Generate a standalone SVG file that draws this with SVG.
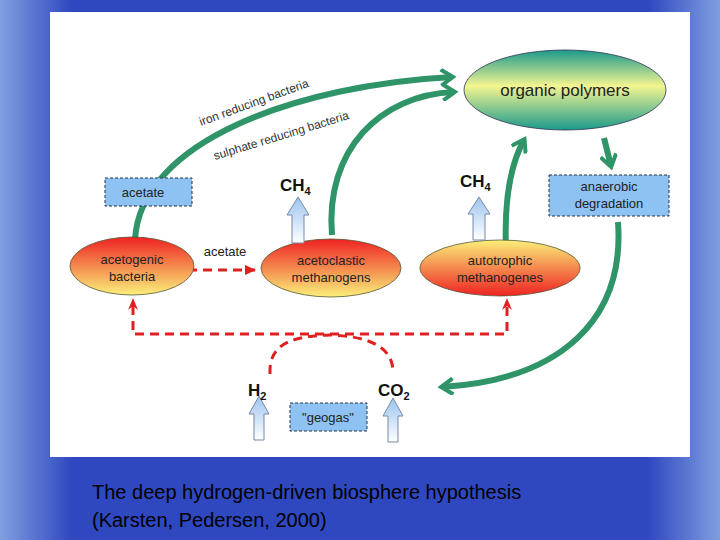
<svg xmlns="http://www.w3.org/2000/svg" width="720" height="540" viewBox="0 0 720 540">
<defs>
<linearGradient id="bg" x1="0" y1="0" x2="1" y2="0"><stop offset="0" stop-color="#7f9fe0"/><stop offset="0.1" stop-color="#2f48c0"/><stop offset="0.9" stop-color="#2f48c0"/><stop offset="1" stop-color="#7f9fe0"/></linearGradient>
<linearGradient id="gOrg" x1="0" y1="0" x2="0" y2="1"><stop offset="0" stop-color="#1a9a8c"/><stop offset="0.45" stop-color="#f4f590"/><stop offset="1" stop-color="#1a9a8c"/></linearGradient>
<linearGradient id="gRY" x1="0" y1="0" x2="0" y2="1"><stop offset="0" stop-color="#ee2222"/><stop offset="1" stop-color="#fbf07a"/></linearGradient>
<linearGradient id="gYR" x1="0" y1="0" x2="0" y2="1"><stop offset="0" stop-color="#fbf07a"/><stop offset="1" stop-color="#ee2222"/></linearGradient>
<linearGradient id="gBA" x1="0" y1="0" x2="0" y2="1"><stop offset="0" stop-color="#9cc4ee"/><stop offset="1" stop-color="#ffffff"/></linearGradient>
<marker id="ga" markerWidth="18" markerHeight="18" refX="13" refY="9" orient="auto" markerUnits="userSpaceOnUse"><path d="M2,1 L14,9 L2,17" fill="none" stroke="#2f9467" stroke-width="4"/></marker>
<marker id="ra" markerWidth="12" markerHeight="12" refX="10" refY="6" orient="auto" markerUnits="userSpaceOnUse"><path d="M0,1 L11,6 L0,11 Z" fill="#e02020"/></marker>
</defs>
<style>
.t{font-family:"Liberation Sans",Arial,sans-serif;fill:#222;text-anchor:middle}
.box{fill:#8ec2f2;stroke:#234;stroke-width:1;stroke-dasharray:3,2}
.g{fill:none;stroke:#2f9467;stroke-width:6;marker-end:url(#ga)}
.r{fill:none;stroke:#e02020;stroke-width:3;stroke-dasharray:9,6}
.ba{fill:url(#gBA);stroke:#7788aa;stroke-width:1}
.ch{font-family:"Liberation Sans",Arial,sans-serif;font-weight:bold;font-size:17px;fill:#111}
</style>
<rect width="720" height="540" fill="url(#bg)"/>
<rect x="50" y="12" width="640" height="445" fill="#fff"/>
<g id="connectors">
<path class="g" d="M135,240 C140,140 300,85 452,77"/>
<path class="g" d="M332,235 C325,150 380,95 454,92"/>
<path class="g" d="M506,250 C504,200 510,165 524,140"/>
<path class="g" d="M604,138 L611,166"/>
<path class="g" d="M618,222 C625,320 560,380 442,387"/>
<path class="r" d="M158,270 H255" marker-end="url(#ra)"/>
<path class="r" d="M133,306 V334 H507 V306" />
<path d="M133,306 l-5,4 5,-12 5,12z M507,306 l-5,4 5,-12 5,12z" fill="#e02020"/>
<path class="r" d="M270,374 C268,340 300,336 330,335 C365,336 393,345 393,372"/>
</g>
<g id="organic-polymers"><ellipse cx="565" cy="90" rx="101" ry="40" fill="url(#gOrg)" stroke="#335" stroke-width="0.8"/><text class="t" x="565" y="96" font-size="17">organic polymers</text></g>
<g id="acetogenic-bacteria"><ellipse cx="132" cy="266" rx="62" ry="29" fill="url(#gRY)" stroke="#553" stroke-width="0.8"/><text class="t" x="132" y="264" font-size="13">acetogenic</text><text class="t" x="132" y="281" font-size="13">bacteria</text></g>
<g id="acetoclastic-methanogens"><ellipse cx="331" cy="268" rx="70" ry="29" fill="url(#gRY)" stroke="#553" stroke-width="0.8"/><text class="t" x="331" y="265" font-size="13">acetoclastic</text><text class="t" x="331" y="282" font-size="13">methanogens</text></g>
<g id="autotrophic-methanogenes"><ellipse cx="500" cy="268" rx="80" ry="28" fill="url(#gYR)" stroke="#553" stroke-width="0.8"/><text class="t" x="500" y="265" font-size="13">autotrophic</text><text class="t" x="500" y="282" font-size="13">methanogenes</text></g>
<g id="acetate-box"><rect class="box" x="105" y="178" width="87" height="28"/><text class="t" x="143" y="197" font-size="13">acetate</text></g>
<g id="anaerobic-degradation"><rect class="box" x="549" y="175" width="120" height="41"/><text class="t" x="609" y="191" font-size="13">anaerobic</text><text class="t" x="609" y="208" font-size="13">degradation</text></g>
<g id="geogas"><rect class="box" x="290" y="403" width="77" height="28"/><text class="t" x="328" y="422" font-size="13">"geogas"</text></g>
<g id="acetate-label"><text class="t" x="225" y="256" font-size="13">acetate</text></g>
<g id="bacteria-labels" font-family="Liberation Sans,Arial,sans-serif" font-size="12" fill="#333">
<text transform="translate(201,126) rotate(-20)">iron reducing bacteria</text>
<text transform="translate(215,160) rotate(-17)">sulphate reducing bacteria</text>
</g>
<g id="ch4-left"><path class="ba" d="M292,243 V215 H287 L298,197 L309,215 H304 V243 Z"/><text class="ch" x="280" y="191">CH<tspan font-size="11" dy="4">4</tspan></text></g>
<g id="ch4-right"><path class="ba" d="M473,240 V214 H468 L479,197 L490,214 H485 V240 Z"/><text class="ch" x="460" y="187">CH<tspan font-size="11" dy="4">4</tspan></text></g>
<g id="h2"><path class="ba" d="M254,440 V414 H249 L259,396 L269,414 H264 V440 Z"/><text class="ch" x="248" y="396">H<tspan font-size="11" dy="4">2</tspan></text></g>
<g id="co2"><path class="ba" d="M388,442 V416 H383 L393,398 L403,416 H398 V442 Z"/><text class="ch" x="378" y="396">CO<tspan font-size="11" dy="4">2</tspan></text></g>
<g id="caption" font-family="Liberation Sans,Arial,sans-serif" font-size="20" fill="#000">
<text x="92" y="499">The deep hydrogen-driven biosphere hypothesis</text>
<text x="92" y="527">(Karsten, Pedersen, 2000)</text>
</g>
</svg>
